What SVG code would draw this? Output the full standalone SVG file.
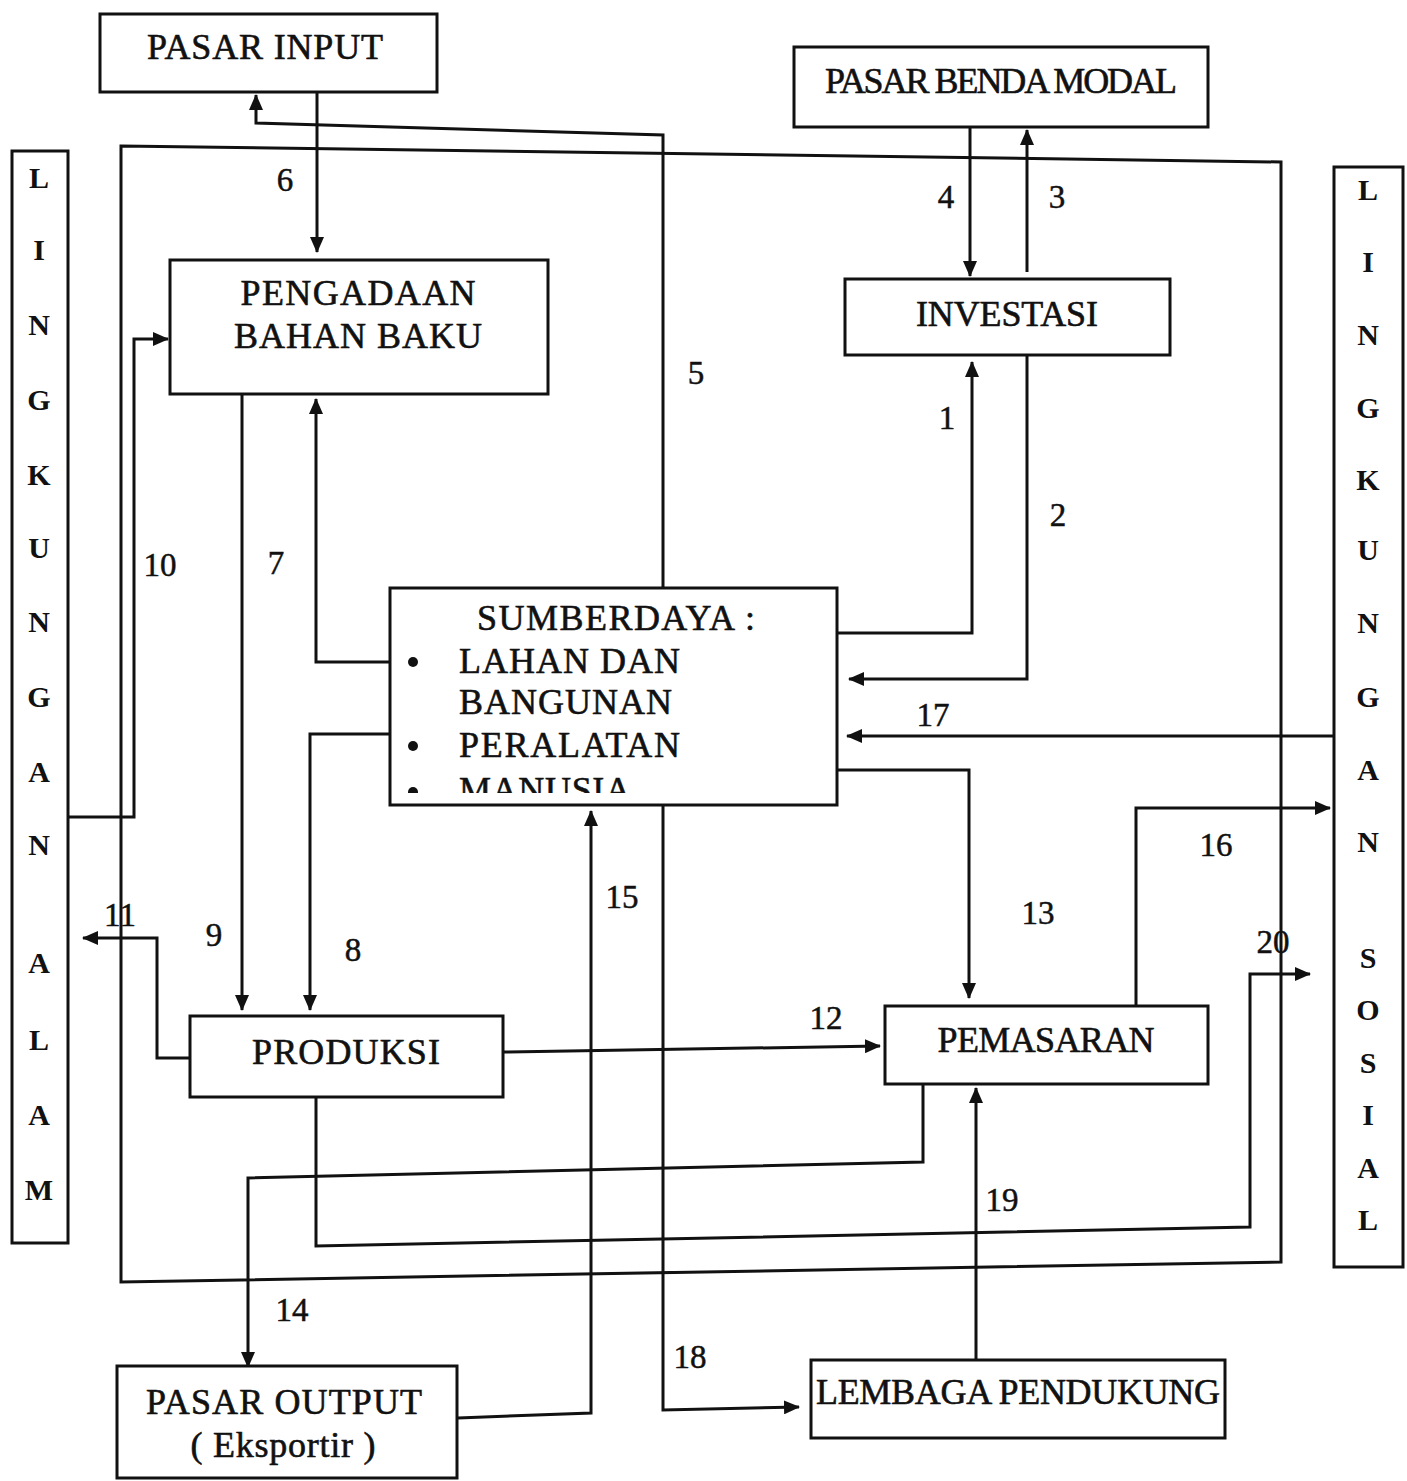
<svg xmlns="http://www.w3.org/2000/svg" width="1407" height="1481" viewBox="0 0 1407 1481">
<style>
.box{fill:#fff;stroke:#111;stroke-width:3}
.ln{fill:none;stroke:#111;stroke-width:3}
.t{font-family:"Liberation Serif","Times New Roman",serif;font-size:36px;fill:#111;stroke:#111;stroke-width:0.6;text-anchor:middle}
.tl{font-family:"Liberation Serif","Times New Roman",serif;font-size:36px;fill:#111;stroke:#111;stroke-width:0.6}
.n{font-family:"Liberation Serif","Times New Roman",serif;font-size:33px;fill:#111;stroke:#111;stroke-width:0.5;text-anchor:middle}
.v{font-family:"Liberation Serif","Times New Roman",serif;font-size:30px;font-weight:bold;fill:#111;text-anchor:middle}
</style>
<defs>
<marker id="ah" markerWidth="16" markerHeight="14" refX="15" refY="7" orient="auto" markerUnits="userSpaceOnUse">
<path d="M0,0 L16,7 L0,14 z" fill="#111"/>
</marker>
<clipPath id="sclip"><rect x="390" y="588" width="447" height="205"/></clipPath>
</defs>
<rect width="1407" height="1481" fill="#fff"/>

<g id="boundary">
<path class="ln" d="M121,146 L1281,162 L1281,1262 L121,1282 Z"/>
</g>

<g id="connectors">
<path class="ln" d="M837,633 L972,633 L972,362" marker-end="url(#ah)"/>
<path class="ln" d="M1027,356 L1027,679 L849,679" marker-end="url(#ah)"/>
<path class="ln" d="M1027,272 L1027,130" marker-end="url(#ah)"/>
<path class="ln" d="M970,127 L970,276" marker-end="url(#ah)"/>
<path class="ln" d="M663,588 L663,135 L256,123 L256,95" marker-end="url(#ah)"/>
<path class="ln" d="M317,92 L317,252" marker-end="url(#ah)"/>
<path class="ln" d="M390,662 L316,662 L316,399" marker-end="url(#ah)"/>
<path class="ln" d="M390,734 L310,734 L310,1010" marker-end="url(#ah)"/>
<path class="ln" d="M242,393 L242,1010" marker-end="url(#ah)"/>
<path class="ln" d="M68,817 L134,817 L134,339 L168,339" marker-end="url(#ah)"/>
<path class="ln" d="M190,1058 L157,1058 L157,938 L83,938" marker-end="url(#ah)"/>
<path class="ln" d="M504,1052 L880,1046" marker-end="url(#ah)"/>
<path class="ln" d="M837,770 L969,770 L969,998" marker-end="url(#ah)"/>
<path class="ln" d="M923,1084 L923,1162 L248,1178 L248,1367" marker-end="url(#ah)"/>
<path class="ln" d="M458,1418 L591,1413 L591,811" marker-end="url(#ah)"/>
<path class="ln" d="M1136,1006 L1136,808 L1330,808" marker-end="url(#ah)"/>
<path class="ln" d="M1334,736 L847,736" marker-end="url(#ah)"/>
<path class="ln" d="M663,806 L663,1410 L799,1407" marker-end="url(#ah)"/>
<path class="ln" d="M976,1361 L976,1088" marker-end="url(#ah)"/>
<path class="ln" d="M316,1097 L316,1246 L1250,1227 L1250,974 L1310,974" marker-end="url(#ah)"/>
</g>

<g id="labels">
<text class="n" x="947" y="429">1</text>
<text class="n" x="1058" y="526">2</text>
<text class="n" x="1057" y="208">3</text>
<text class="n" x="946" y="208">4</text>
<text class="n" x="696" y="384">5</text>
<text class="n" x="285" y="191">6</text>
<text class="n" x="276" y="574">7</text>
<text class="n" x="353" y="961">8</text>
<text class="n" x="214" y="946">9</text>
<text class="n" x="160" y="576">10</text>
<text class="n" x="120" y="926">11</text>
<text class="n" x="826" y="1029">12</text>
<text class="n" x="1038" y="924">13</text>
<text class="n" x="292" y="1321">14</text>
<text class="n" x="622" y="908">15</text>
<text class="n" x="1216" y="856">16</text>
<text class="n" x="933" y="726">17</text>
<text class="n" x="690" y="1368">18</text>
<text class="n" x="1002" y="1211">19</text>
<text class="n" x="1273" y="953">20</text>
</g>

<g id="pasar-input">
<rect class="box" x="100" y="14" width="337" height="78"/>
<text class="t" x="265" y="59" textLength="236">PASAR INPUT</text>
</g>

<g id="pasar-benda-modal">
<rect class="box" x="794" y="47" width="414" height="80"/>
<text class="t" x="1001" y="93" textLength="352">PASAR BENDA MODAL</text>
</g>

<g id="pengadaan-bahan-baku">
<rect class="box" x="170" y="260" width="378" height="134"/>
<text class="t" x="358" y="305" textLength="235">PENGADAAN</text>
<text class="t" x="358" y="348" textLength="248">BAHAN BAKU</text>
</g>

<g id="investasi">
<rect class="box" x="845" y="279" width="325" height="76"/>
<text class="t" x="1007" y="326" textLength="182">INVESTASI</text>
</g>

<g id="sumberdaya">
<rect class="box" x="390" y="588" width="447" height="217"/>
<g clip-path="url(#sclip)">
<text class="t" x="616" y="630" textLength="278">SUMBERDAYA :</text>
<circle cx="413" cy="662" r="5" fill="#111"/>
<text class="tl" x="459" y="673" textLength="221">LAHAN DAN</text>
<text class="tl" x="459" y="714" textLength="213">BANGUNAN</text>
<circle cx="413" cy="746" r="5" fill="#111"/>
<text class="tl" x="459" y="757" textLength="221">PERALATAN</text>
<circle cx="413" cy="792" r="5" fill="#111"/>
<text class="tl" x="459" y="802" textLength="172">MANUSIA</text>
</g>
</g>

<g id="produksi">
<rect class="box" x="190" y="1016" width="313" height="81"/>
<text class="t" x="346" y="1064" textLength="188">PRODUKSI</text>
</g>

<g id="pemasaran">
<rect class="box" x="885" y="1006" width="323" height="78"/>
<text class="t" x="1046" y="1052" textLength="217">PEMASARAN</text>
</g>

<g id="pasar-output">
<rect class="box" x="117" y="1366" width="340" height="112"/>
<text class="t" x="284" y="1414" textLength="276">PASAR OUTPUT</text>
<text class="t" x="283" y="1457" textLength="185">( Eksportir )</text>
</g>

<g id="lembaga-pendukung">
<rect class="box" x="811" y="1360" width="414" height="78"/>
<text class="t" x="1018" y="1404" textLength="404">LEMBAGA PENDUKUNG</text>
</g>

<g id="lingkungan-alam">
<rect class="box" x="12" y="151" width="56" height="1092"/>
<text class="v" x="39" y="188">L</text>
<text class="v" x="39" y="260">I</text>
<text class="v" x="39" y="335">N</text>
<text class="v" x="39" y="410">G</text>
<text class="v" x="39" y="485">K</text>
<text class="v" x="39" y="558">U</text>
<text class="v" x="39" y="632">N</text>
<text class="v" x="39" y="707">G</text>
<text class="v" x="39" y="782">A</text>
<text class="v" x="39" y="855">N</text>
<text class="v" x="39" y="973">A</text>
<text class="v" x="39" y="1050">L</text>
<text class="v" x="39" y="1125">A</text>
<text class="v" x="39" y="1200">M</text>
</g>

<g id="lingkungan-sosial">
<rect class="box" x="1334" y="167" width="69" height="1100"/>
<text class="v" x="1368" y="200">L</text>
<text class="v" x="1368" y="272">I</text>
<text class="v" x="1368" y="345">N</text>
<text class="v" x="1368" y="418">G</text>
<text class="v" x="1368" y="490">K</text>
<text class="v" x="1368" y="560">U</text>
<text class="v" x="1368" y="633">N</text>
<text class="v" x="1368" y="707">G</text>
<text class="v" x="1368" y="780">A</text>
<text class="v" x="1368" y="852">N</text>
<text class="v" x="1368" y="968">S</text>
<text class="v" x="1368" y="1020">O</text>
<text class="v" x="1368" y="1073">S</text>
<text class="v" x="1368" y="1125">I</text>
<text class="v" x="1368" y="1178">A</text>
<text class="v" x="1368" y="1230">L</text>
</g>
</svg>
